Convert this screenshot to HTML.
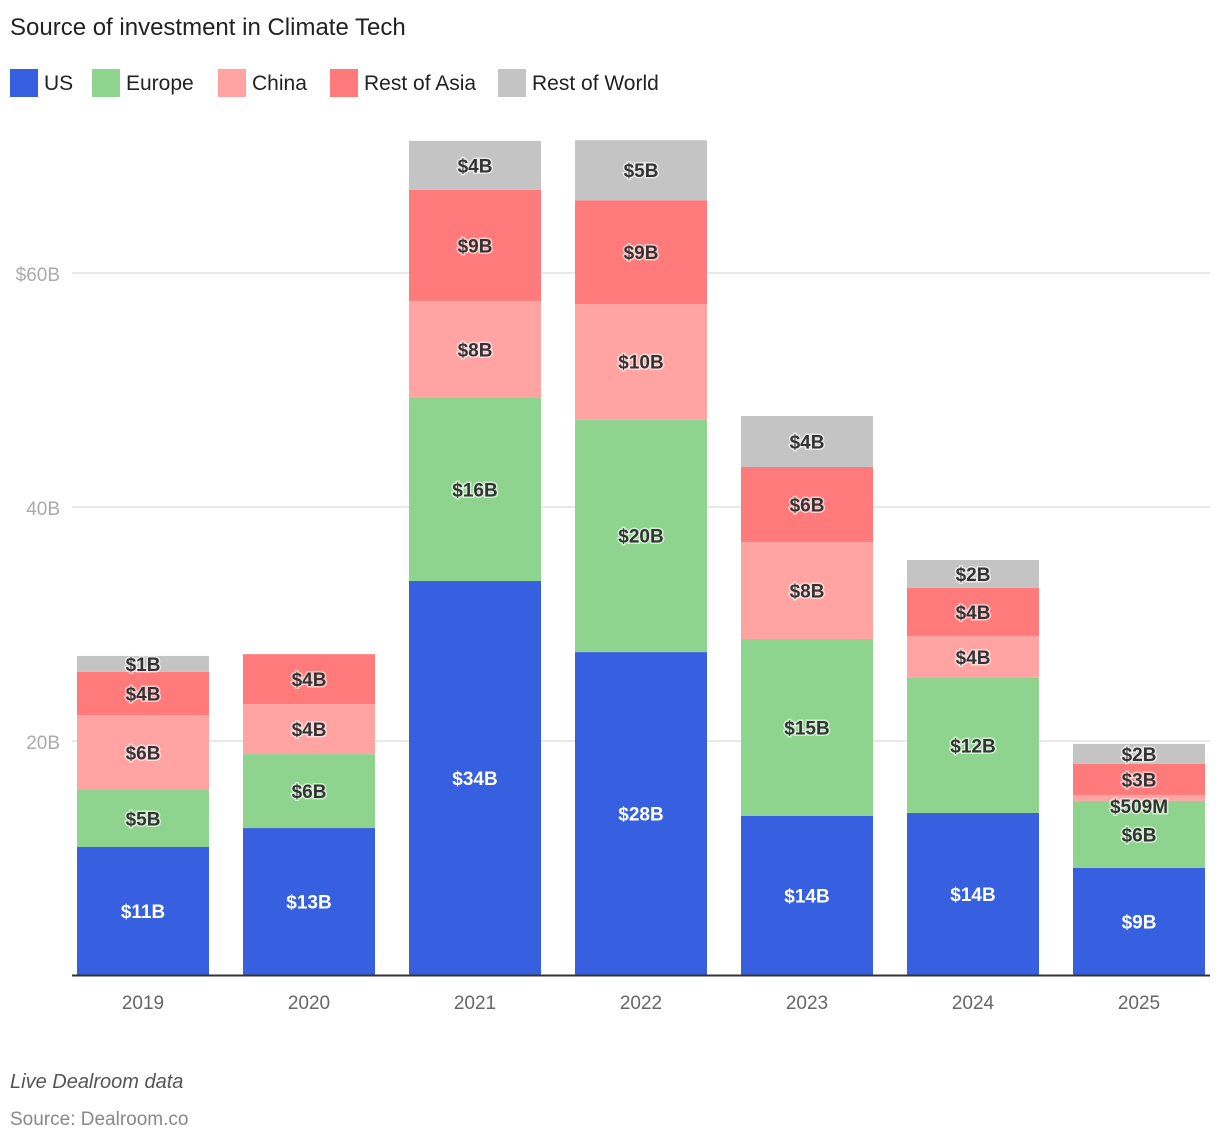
<!DOCTYPE html>
<html><head><meta charset="utf-8"><style>
body{margin:0;background:#fff;width:1220px;height:1142px;overflow:hidden;font-family:"Liberation Sans",sans-serif}
</style></head><body>
<svg width="1220" height="1142" xmlns="http://www.w3.org/2000/svg">
<text x="10" y="35" font-size="24" fill="#222">Source of investment in Climate Tech</text>
<g id="legend"></g>
<g id="grid"></g>
<g id="bars"></g>
<g id="xaxis"></g>
<text x="10" y="1088" font-size="20" font-style="italic" fill="#555">Live Dealroom data</text>
<text x="10" y="1125" font-size="19" fill="#888">Source: Dealroom.co</text>
</svg>
<script>
const years=["2019","2020","2021","2022","2023","2024","2025"];
const seriesNames=["US","Europe","China","Rest of Asia","Rest of World"];
const usVals=[10.94,12.56,33.68,27.6,13.59,13.85,9.15];
const europeVals=[4.87,6.32,15.64,19.9,15.13,11.54,5.73];
const chinaVals=[6.41,4.27,8.29,9.83,8.29,3.59,0.509];
const roaVals=[3.68,4.27,9.49,8.89,6.41,4.1,2.65];
const rowVals=[1.37,0,4.19,5.13,4.36,2.39,1.71];
const usLabels=["$11B","$13B","$34B","$28B","$14B","$14B","$9B"];
const europeLabels=["$5B","$6B","$16B","$20B","$15B","$12B","$6B"];
const chinaLabels=["$6B","$4B","$8B","$10B","$8B","$4B","$509M"];
const roaLabels=["$4B","$4B","$9B","$9B","$6B","$4B","$3B"];
const rowLabels=["$1B","","$4B","$5B","$4B","$2B","$2B"];
const yTicks=[20,40,60];
const yTickLabels=["20B","40B","$60B"];
const colors=["#3760e0","#8ed48f","#ffa3a3","#ff7b7b","#c4c4c4"];
const NS="http://www.w3.org/2000/svg";
function mk(t,a,p,txt){const e=document.createElementNS(NS,t);for(const k in a)e.setAttribute(k,a[k]);if(txt!=null)e.textContent=txt;p.appendChild(e);return e;}
const y0=975,pxPer=11.7;
const yS=v=>y0-v*pxPer;
const xS=i=>77+i*166;
const bw=132;
const lg=document.getElementById('legend');
let lx=10;
const lw=[82,126,112,168,160];
seriesNames.forEach((n,i)=>{
 const r=mk('rect',{x:lx,y:69,width:28,height:28,fill:colors[i]},lg);
 
 
 const t=mk('text',{x:lx+34,y:90,'font-size':21,fill:'#222'},lg,n);
 
 
 lx+=lw[i];
});
const g=document.getElementById('grid');
yTicks.forEach((v,i)=>{
 const l=mk('line',{x1:72,x2:1210,y1:yS(v),y2:yS(v),stroke:'#e2e2e2','stroke-width':1.5},g);
 
 
 const t=mk('text',{x:60,y:yS(v)+8,'font-size':19,fill:'#aaa','text-anchor':'end'},g,yTickLabels[i]);
 
 
});
const b=document.getElementById('bars');
const all=[usVals,europeVals,chinaVals,roaVals,rowVals];
const labs=[usLabels,europeLabels,chinaLabels,roaLabels,rowLabels];
years.forEach((yr,i)=>{
 let cum=0;
 all.forEach((s,k)=>{
  const v=s[i];if(!v){return;}
  const top=yS(cum+v),bot=yS(cum);
  const r=mk('rect',{x:xS(i),y:top,width:bw,height:bot-top,fill:colors[k]},b);
  
  
  cum+=v;
 });
 cum=0;
 all.forEach((s,k)=>{
  const v=s[i];if(!v){return;}
  const top=yS(cum+v),bot=yS(cum);
  let cy=(top+bot)/2+7;
  if(k==2&&i==6)cy=bot+12;
  const t=mk('text',{x:xS(i)+bw/2,y:cy,'font-size':19,'font-weight':'bold','text-anchor':'middle',fill:k==0?'#fff':'#333',stroke:k==0?'none':'rgba(255,255,255,0.6)','stroke-width':3,'paint-order':'stroke'},b,labs[k][i]);
  
  
  cum+=v;
 });
});
const xa=document.getElementById('xaxis');
const ax=mk('line',{x1:72,x2:1210,y1:y0+0.5,y2:y0+0.5,stroke:'#333','stroke-width':2},xa);


years.forEach((yr,i)=>{
 const t=mk('text',{x:xS(i)+bw/2,y:1009,'font-size':19,fill:'#666','text-anchor':'middle'},xa,yr);
 
 
});
</script>
</body></html>
